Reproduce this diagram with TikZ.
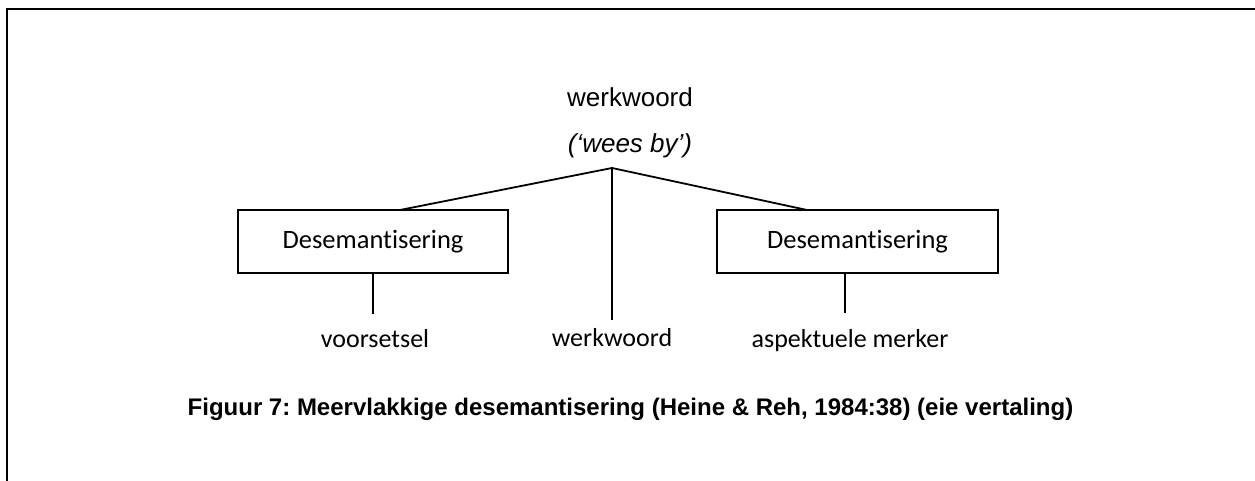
\documentclass[tikz,border=0pt]{standalone}
\usepackage{fontspec}
\setmainfont{Liberation Sans}
\newfontfamily\calibrilike[Ligatures=NoCommon]{Carlito}
\frenchspacing
\begin{document}
\begin{tikzpicture}[x=1pt,y=-1pt,
  arialtext/.style={font=\fontsize{26}{30}\selectfont, inner sep=0pt, anchor=base},
  cbtext/.style={font=\calibrilike\fontsize{26}{30}\selectfont, inner sep=0pt, anchor=base},
  semabox/.style={draw, line width=1.3pt, minimum height=63pt, inner sep=0pt,
    font=\calibrilike\fontsize{26.5}{30}\selectfont},
  link/.style={line width=1.8pt},
  frameline/.style={line width=1.8pt}]
  \useasboundingbox (0,0) rectangle (1255,481);

  % open frame: top and left edges
  \coordinate (ftl) at (7,9);
  \coordinate (ftr) at (1255,9);
  \coordinate (fbl) at (7,481);
  \draw[frameline] (ftr) -- (ftl) -- (fbl);

  % top of the tree
  \node[arialtext] (verb) at (630,107) {werkwoord};
  \node[arialtext, font=\fontsize{26}{30}\selectfont\itshape] (gloss) at (630,153) {(‘wees by’)};
  \coordinate (apex) at (612,168);

  % the two boxes
  \node[semabox, minimum width=270pt] (lbox) at (373,241.5) {Desemantisering};
  \node[semabox, minimum width=281pt] (rbox) at (857.5,241.5) {Desemantisering};
  \coordinate (ljoin) at (400,210);
  \coordinate (rjoin) at (807,210);

  % leaves
  \node[cbtext] (prep) at (375,347) {voorsetsel};
  \node[cbtext] (verb2) at (612,346) {werkwoord};
  \node[cbtext] (aspect) at (850,347) {aspektuele merker};
  \coordinate (lfoot) at (373,314);
  \coordinate (mfoot) at (612,320);
  \coordinate (rfoot) at (845,313);
  \coordinate (rtop) at (845,273);

  % branches
  \draw[link] (apex) -- (ljoin);
  \draw[link] (apex) -- (rjoin);
  \draw[link] (apex) -- (mfoot);
  \draw[link] (lbox.south) -- (lfoot);
  \draw[link] (rtop) -- (rfoot);

  % caption
  \node[anchor=base, inner sep=0pt, font=\bfseries\fontsize{24}{28}\selectfont] (caption) at (630.5,415)
    {Figuur 7: Meervlakkige desemantisering (Heine \& Reh, 1984:38) (eie vertaling)};
\end{tikzpicture}
\end{document}
